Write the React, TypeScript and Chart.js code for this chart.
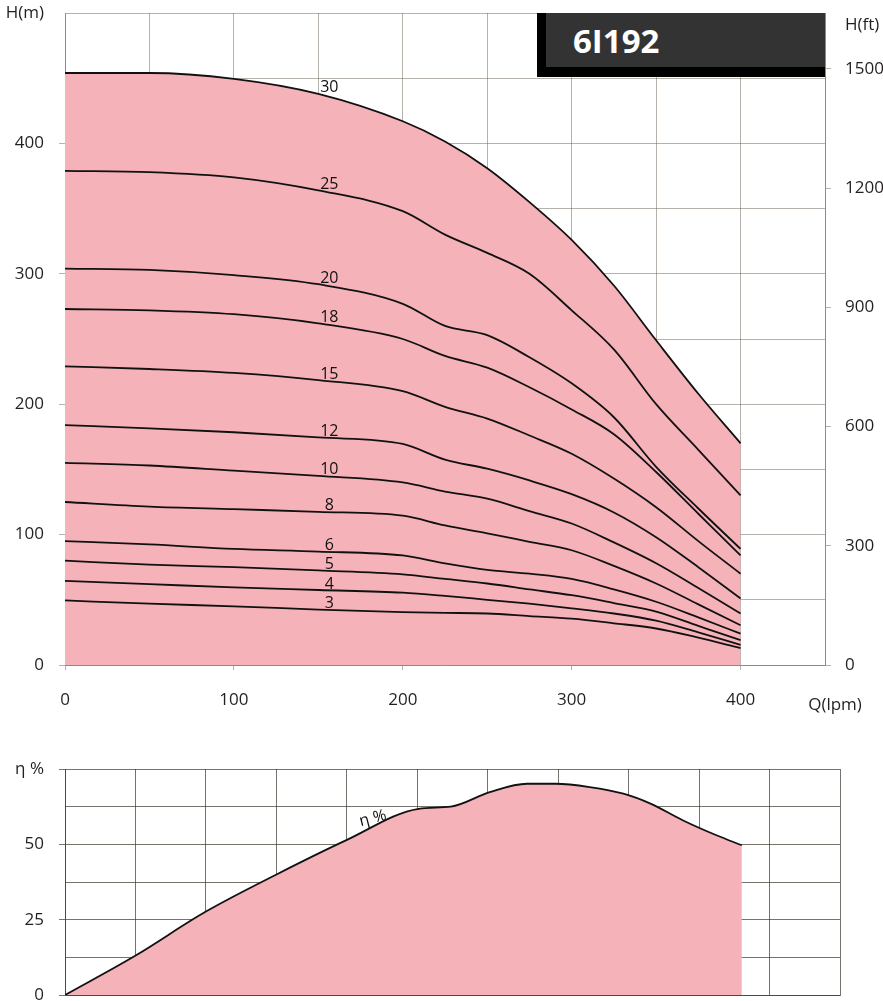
import React, { useEffect, useRef } from "react";
import { Chart, registerables } from "chart.js";

Chart.register(...registerables);

// ---------- data ----------
const FLOW = [0, 50, 100, 150, 200, 225, 250, 275, 300, 325, 350, 375, 400];

const STAGE_LABELS = ["30", "25", "20", "18", "15", "12", "10", "8", "6", "5", "4", "3"];
const H30 = [454, 454, 449.5, 438, 417, 401.5, 381, 355, 326, 291, 249, 208, 170];
const H25 = [379, 378, 374, 364, 348, 330, 316, 300, 272, 242, 200, 165, 130];
const H20 = [304, 303, 299, 292, 277, 260, 253, 236, 216, 190, 152, 120, 89];
const H18 = [273, 272, 269, 262, 250, 237, 228, 213, 196, 177, 148, 116, 84];
const H15 = [229, 227, 224, 218.5, 210, 198, 189, 176, 162, 143, 121, 95, 70];
const H12 = [184, 181.5, 178.5, 174.5, 169.5, 157.5, 150.5, 141.5, 131, 117, 98, 75, 51];
const H10 = [155, 153, 149, 145, 140, 133, 127.5, 118, 108.5, 94, 78, 59, 39.5];
const H8 = [125, 121.5, 119.5, 117.5, 114.5, 107, 101, 94.5, 88, 76, 62.5, 46.5, 30.5];
const H6 = [95, 92.5, 89, 87, 84, 78, 73, 70, 66, 58, 48.5, 36.5, 24];
const H5 = [80, 77, 75, 72.5, 69.5, 66, 62.5, 58, 53.5, 47.5, 41, 30, 19];
const H4 = [64.5, 62, 59.5, 57.5, 55.5, 53, 50, 47, 43.5, 39.5, 34, 25, 15.5];
const H3 = [49.5, 47, 45, 42.5, 40.5, 40, 39.5, 37.5, 35.5, 32, 28, 21, 13];
const HEADS = [H30, H25, H20, H18, H15, H12, H10, H8, H6, H5, H4, H3];

const EFF_FLOW = [0, 42, 83, 125, 166, 209, 228, 251, 273, 290, 310, 330, 346, 365, 385, 400];
const EFF = [0, 13.2, 27.6, 40, 51.3, 61.8, 62.5, 67.3, 70.1, 70.1, 69, 66.8, 63.5, 58, 53, 49.7];

const X_TICK_LABELS = [0, 100, 200, 300, 400];
const H_TICK_LABELS = [0, 100, 200, 300, 400];
const FT_TICKS = [0, 300, 600, 900, 1200, 1500];
const EFF_TICK_LABELS = [0, 25, 50];

const TITLE = "6I192";
const LABEL_FLOW = 150;
const M_TO_FT = 3.28084;
const H_MAX = 500;
const Q_MAX = 450;
const FT_TITLE_POS = 1610;
const EFF_MAX = 75;
const EFF_Q_MAX = 458;
const EFF_GRID_DIVS = 11;

// ---------- style ----------
const FONT = '"Open Sans", "Noto Sans", sans-serif';
const TEXT = "#231f20";
const PINK = "#f5b3b9";
const GRID_TOP = "rgba(110,100,85,0.5)";
const GRID_BOT = "rgba(60,55,45,0.7)";
const LINE = "#111111";

const fixSize = (w: number | null, h: number | null) => (s: any) => {
  if (w !== null) s.width = w;
  if (h !== null) s.height = h;
  s.paddingTop = 0;
  s.paddingBottom = 0;
  s.paddingLeft = 0;
  s.paddingRight = 0;
};

const curveLabelPlugin = {
  id: "curveLabels",
  afterDatasetsDraw(chart: any) {
    const { ctx, scales } = chart;
    const idx = FLOW.indexOf(LABEL_FLOW);
    ctx.save();
    ctx.font = `16px ${FONT}`;
    ctx.fillStyle = LINE;
    ctx.textAlign = "center";
    ctx.textBaseline = "middle";
    chart.data.datasets.forEach((ds: any) => {
      const p = ds.data[idx];
      const x = scales.x.getPixelForValue(p.x) + 11;
      const y = scales.y.getPixelForValue(p.y) - 6;
      ctx.fillText(ds.label, x, y);
    });
    ctx.restore();
  },
};

const qTitlePlugin = {
  id: "qTitle",
  afterDraw(chart: any) {
    const { ctx, chartArea } = chart;
    ctx.save();
    ctx.font = `17px ${FONT}`;
    ctx.fillStyle = TEXT;
    ctx.textAlign = "center";
    ctx.textBaseline = "middle";
    ctx.fillText("Q(lpm)", chartArea.right + 10, chartArea.bottom + 40);
    ctx.restore();
  },
};

const effLabelPlugin = {
  id: "effLabel",
  afterDatasetsDraw(chart: any) {
    const { ctx, scales } = chart;
    const x = scales.x.getPixelForValue(EFF_FLOW[4]) + 27;
    const y = scales.y.getPixelForValue(EFF[4]) - 22;
    ctx.save();
    ctx.translate(x, y);
    ctx.rotate(-0.25);
    ctx.font = `16px ${FONT}`;
    ctx.fillStyle = LINE;
    ctx.textAlign = "center";
    ctx.textBaseline = "middle";
    ctx.fillText("η %", 0, 0);
    ctx.restore();
  },
};

const tickFont = { family: FONT, size: 17 };

export default function App() {
  const topRef = useRef<HTMLCanvasElement>(null);
  const botRef = useRef<HTMLCanvasElement>(null);

  useEffect(() => {
    const datasets = HEADS.map((arr, i) => ({
      label: STAGE_LABELS[i],
      data: FLOW.map((q, j) => ({ x: q, y: arr[j] })),
      borderColor: LINE,
      borderWidth: 1.8,
      pointRadius: 0,
      cubicInterpolationMode: "monotone" as const,
      fill: i === 0 ? "origin" : false,
      backgroundColor: PINK,
    }));

    const top = new Chart(topRef.current!, {
      type: "line",
      data: { datasets },
      options: {
        animation: false,
        responsive: true,
        maintainAspectRatio: false,
        layout: { padding: { top: 13, left: 0, right: 0, bottom: 0 } },
        plugins: {
          legend: { display: false },
          tooltip: { enabled: false },
          filler: { drawTime: "beforeDatasetsDraw" },
        } as any,
        scales: {
          x: {
            type: "linear",
            min: 0,
            max: Q_MAX,
            z: 1,
            afterFit: fixSize(null, 60),
            ticks: {
              stepSize: 50,
              autoSkip: false,
              maxRotation: 0,
              padding: 20,
              font: tickFont,
              color: TEXT,
              callback: (v: any) => (X_TICK_LABELS.includes(v) ? String(v) : ""),
            },
            grid: {
              color: GRID_TOP,
              tickLength: 5,
              tickColor: (c: any) => (X_TICK_LABELS.includes(c.tick?.value) ? GRID_TOP : "rgba(0,0,0,0)"),
            },
            border: { color: GRID_TOP },
          },
          y: {
            type: "linear",
            position: "left",
            min: 0,
            max: H_MAX,
            z: 1,
            afterFit: fixSize(65, null),
            ticks: {
              stepSize: 50,
              autoSkip: false,
              padding: 15,
              font: tickFont,
              color: TEXT,
              callback: (v: any) => (v === H_MAX ? "H(m)" : H_TICK_LABELS.includes(v) ? String(v) : ""),
            },
            grid: {
              color: GRID_TOP,
              tickLength: 6,
              tickColor: (c: any) => (H_TICK_LABELS.includes(c.tick?.value) ? GRID_TOP : "rgba(0,0,0,0)"),
            },
            border: { color: GRID_TOP },
          },
          y2: {
            type: "linear",
            position: "right",
            min: 0,
            max: H_MAX * M_TO_FT,
            z: 1,
            afterFit: fixSize(58, null),
            afterBuildTicks: (s: any) => {
              s.ticks = [...FT_TICKS, FT_TITLE_POS].map((v) => ({ value: v }));
            },
            ticks: {
              padding: 14,
              font: tickFont,
              color: TEXT,
              callback: (v: any) => (v === FT_TITLE_POS ? "H(ft)" : String(v)),
            },
            grid: {
              drawOnChartArea: false,
              tickLength: 6,
              tickColor: (c: any) => (c.tick?.value === FT_TITLE_POS ? "rgba(0,0,0,0)" : GRID_TOP),
            },
            border: { color: GRID_TOP },
          },
        },
      } as any,
      plugins: [curveLabelPlugin, qTitlePlugin],
    });

    const bot = new Chart(botRef.current!, {
      type: "line",
      data: {
        datasets: [
          {
            label: "η %",
            data: EFF_FLOW.map((q, j) => ({ x: q, y: EFF[j] })),
            borderColor: LINE,
            borderWidth: 1.8,
            pointRadius: 0,
            cubicInterpolationMode: "monotone",
            fill: "origin",
            backgroundColor: PINK,
          },
        ],
      },
      options: {
        animation: false,
        responsive: true,
        maintainAspectRatio: false,
        layout: { padding: { top: 44, left: 0, right: 43, bottom: 0 } },
        plugins: {
          legend: { display: false },
          tooltip: { enabled: false },
          filler: { drawTime: "beforeDatasetsDraw" },
        } as any,
        scales: {
          x: {
            type: "linear",
            min: 0,
            max: EFF_Q_MAX,
            z: 1,
            afterFit: fixSize(null, 30),
            afterBuildTicks: (s: any) => {
              s.ticks = Array.from({ length: EFF_GRID_DIVS + 1 }, (_, i) => ({
                value: (i * EFF_Q_MAX) / EFF_GRID_DIVS,
              }));
            },
            ticks: { display: false },
            grid: { color: GRID_BOT, drawTicks: false },
            border: { color: GRID_BOT },
          },
          y: {
            type: "linear",
            min: 0,
            max: EFF_MAX,
            z: 1,
            afterFit: fixSize(65, null),
            ticks: {
              stepSize: 12.5,
              autoSkip: false,
              padding: 15,
              font: tickFont,
              color: TEXT,
              callback: (v: any) => (v === EFF_MAX ? "η %" : EFF_TICK_LABELS.includes(v) ? String(v) : ""),
            },
            grid: {
              color: GRID_BOT,
              tickLength: 6,
              tickColor: (c: any) =>
                EFF_TICK_LABELS.includes(c.tick?.value) || c.tick?.value === EFF_MAX ? GRID_BOT : "rgba(0,0,0,0)",
            },
            border: { color: GRID_BOT },
          },
        },
      } as any,
      plugins: [effLabelPlugin],
    });

    return () => {
      top.destroy();
      bot.destroy();
    };
  }, []);

  return (
    <div
      style={{
        position: "absolute",
        left: 0,
        top: 0,
        width: 883,
        height: 1001,
        overflow: "hidden",
        background: "#ffffff",
      }}
    >
      <div style={{ position: "absolute", left: 0, top: 0, width: 883, height: 725 }}>
        <canvas ref={topRef} />
      </div>
      <div style={{ position: "absolute", left: 0, top: 725, width: 883, height: 300 }}>
        <canvas ref={botRef} />
      </div>
      <div
        style={{
          position: "absolute",
          left: 537,
          top: 13,
          width: 288,
          height: 64,
          background: "#000000",
        }}
      />
      <div
        style={{
          position: "absolute",
          left: 546,
          top: 13,
          width: 279,
          height: 54,
          background: "#333333",
          color: "#ffffff",
          fontFamily: FONT,
          fontWeight: 700,
          fontSize: 33,
          display: "flex",
          alignItems: "center",
          paddingLeft: 27,
          boxSizing: "border-box",
        }}
      >
        {TITLE}
      </div>
    </div>
  );
}
